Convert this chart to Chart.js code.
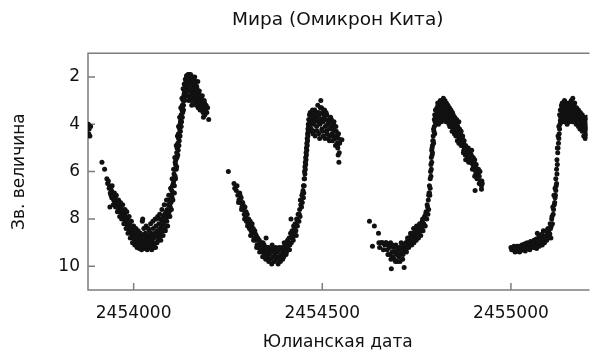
<!DOCTYPE html>
<html>
<head>
<meta charset="utf-8">
<script src="https://cdn.jsdelivr.net/npm/chart.js@4.4.0/dist/chart.umd.min.js"></script>
<style>
    html, body { margin: 0; padding: 0; background: #fff; overflow: hidden; }
    #wrap { width: 590px; height: 351px; }
</style>
</head>
<body>
<div id="wrap"><canvas id="chart" width="590" height="351"></canvas></div>
<script>
const JD_BASE = 2450000;

const cycle0 = [[3880,4.0],[3881,4.4],[3882,4.2],[3884,4.5],[3886,4.1]];

const cycle1 = [[3916,5.6],[3923,5.9],[3929,6.3],[3931,6.5],[3933,6.4],[3935,6.7],[3936,6.6],[3937,7.5],[3938,6.9],[3939,6.7],[3940,7.0],[3941,6.8],[3942,7.1],[3944,7.1],[3945,6.9],[3947,7.2],[3948,7.0],[3950,7.3],[3951,7.1],[3953,7.2],[3955,7.4],[3956,7.3],[3958,7.5],[3959,7.3],[3961,7.6],[3962,7.4],[3964,7.5],[3966,7.7],[3967,7.6],[3969,7.8],[3970,7.6],[3972,7.9],[3973,7.7],[3975,8.0],[3976,7.8],[3978,8.1],[3979,7.9],[3981,8.2],[3983,8.0],[3984,8.3],[3986,8.1],[3987,8.4],[3989,8.2],[3990,8.5],[3992,8.3],[3993,8.6],[3995,8.4],[3996,8.7],[3998,8.5],[3999,8.8],[4001,8.6],[4002,8.9],[4004,8.7],[4005,9.0],[4007,8.6],[4008,8.9],[4010,9.1],[4011,8.8],[4013,9.0],[4014,8.7],[4016,9.1],[4017,8.9],[4019,9.2],[4020,8.8],[4022,9.0],[4023,8.1],[4024,8.0],[4025,9.1],[4026,8.7],[4028,9.2],[4029,8.9],[4031,8.6],[4032,9.0],[4034,8.8],[4035,9.1],[4037,8.7],[4038,8.9],[4040,9.2],[4041,8.5],[4043,8.8],[4044,9.0],[4046,8.6],[4047,8.9],[4049,9.1],[4050,8.7],[4052,8.4],[4053,8.8],[4055,9.0],[4056,8.6],[4058,9.2],[4059,8.3],[4060,8.0],[4061,8.7],[4063,8.5],[4064,7.9],[4065,8.9],[4067,8.2],[4068,8.6],[4070,8.4],[4071,8.0],[4073,8.7],[4074,8.3],[4076,8.1],[4077,8.5],[4079,7.9],[4080,8.2],[4082,7.8],[4083,8.4],[4085,8.0],[4086,7.7],[4088,8.1],[4089,7.6],[4091,7.9],[4092,7.4],[4093,7.8],[4094,7.7],[4095,7.2],[4096,7.3],[4097,7.5],[4098,7.0],[4099,7.3],[4100,7.0],[4101,6.8],[4102,7.1],[4103,6.6],[4104,6.9],[4105,6.5],[4106,6.4],[4107,6.1],[4108,6.6],[4109,5.9],[4110,6.2],[4110,5.6],[4111,5.7],[4112,5.5],[4113,5.9],[4114,5.2],[4115,5.4],[4115,5.0],[4116,5.0],[4117,4.8],[4118,5.1],[4119,4.6],[4119,4.4],[4120,4.4],[4121,4.7],[4122,4.2],[4123,4.0],[4124,4.3],[4124,3.9],[4125,3.8],[4126,3.6],[4127,3.9],[4128,3.4],[4129,3.2],[4129,3.3],[4130,3.5],[4131,3.0],[4132,3.2],[4133,2.8],[4134,2.9],[4134,2.7],[4135,2.6],[4136,2.7],[4137,2.4],[4138,2.5],[4139,2.2],[4140,2.3],[4141,2.0],[4142,2.4],[4143,2.1],[4144,1.9],[4145,2.6],[4146,2.2],[4147,1.9],[4148,2.8],[4149,2.0],[4150,2.5],[4151,1.9],[4152,2.2],[4153,3.0],[4154,2.1],[4155,2.7],[4156,2.0],[4157,2.4],[4158,2.9],[4159,2.1],[4160,2.6],[4161,2.3],[4162,2.8],[4163,2.2],[4164,3.1],[4165,2.5],[4166,2.7],[4167,2.4],[4168,3.0],[4169,2.6],[4170,2.9],[4171,3.3],[4172,2.7],[4173,3.0],[4175,3.2],[4176,2.8],[4178,3.1],[4180,3.4],[4181,3.0],[4183,3.2],[4185,3.7],[4186,3.3],[4188,3.1],[4190,3.4],[4192,3.2],[4199,3.8]];
const cycle1More = [[3943,6.6],[3946,7.4],[3949,6.9],[3952,7.5],[3954,7.0],[3957,7.7],[3960,7.2],[3963,7.9],[3965,7.3],[3968,8.0],[3971,7.4],[3974,8.2],[3977,7.6],[3980,8.4],[3982,7.7],[3985,8.6],[3988,7.9],[3991,8.8],[3994,8.1],[3997,9.0],[4000,8.3],[4003,9.1],[4006,8.4],[4009,9.2],[4012,8.5],[4015,9.25],[4018,8.6],[4021,9.3],[4027,8.4],[4030,9.25],[4033,8.3],[4036,9.3],[4039,8.4],[4042,9.2],[4045,8.2],[4048,9.3],[4051,8.1],[4054,9.2],[4057,8.0],[4062,9.0],[4066,8.8],[4069,7.8],[4072,8.9],[4075,7.6],[4078,8.7],[4081,7.4],[4084,8.5],[4087,7.2],[4090,8.3],[4093,7.0],[4096,7.9],[4098,6.7],[4100,7.6],[4102,6.3],[4104,7.2],[4106,5.9],[4108,6.9],[4109,5.4],[4111,6.3],[4113,4.9],[4114,5.8],[4116,4.5],[4117,5.3],[4119,4.1],[4120,4.9],[4122,3.7],[4123,4.5],[4125,3.3],[4126,4.1],[4128,2.9],[4129,3.7],[4131,2.5],[4132,3.4],[4134,2.3],[4135,3.0],[4137,2.1],[4138,2.8],[4140,1.95],[4141,2.6],[4143,2.8],[4145,2.0],[4146,3.0],[4148,2.3],[4150,2.9],[4152,2.6],[4154,3.2],[4156,2.5],[4158,2.3],[4160,3.0],[4162,2.0],[4164,2.7],[4166,3.2],[4168,2.5],[4170,2.2],[4172,3.1],[4174,2.6],[4176,3.4],[4178,2.9],[4180,3.2],[4182,2.8],[4184,3.5],[4187,3.0],[4189,3.6],[4191,3.3],[4194,3.5],[4196,3.3]];

const cycle2 = [[4251,6.0],[4266,6.5],[4272,6.8],[4276,7.0],[4279,7.2],[4281,6.9],[4283,7.3],[4285,7.1],[4287,7.5],[4289,7.3],[4291,7.6],[4293,7.8],[4295,7.5],[4297,7.9],[4299,8.1],[4301,7.8],[4303,8.2],[4305,8.0],[4307,8.4],[4309,8.1],[4311,8.5],[4313,8.3],[4315,8.6],[4317,8.4],[4319,8.8],[4321,8.5],[4323,8.9],[4325,8.7],[4327,9.1],[4329,8.8],[4331,9.2],[4333,8.9],[4335,9.0],[4337,9.3],[4339,9.1],[4341,9.4],[4343,9.0],[4345,9.2],[4347,9.5],[4349,9.3],[4351,8.8],[4353,9.4],[4355,9.6],[4357,9.2],[4359,9.5],[4361,9.3],[4363,9.7],[4365,9.4],[4367,9.1],[4369,9.6],[4371,9.3],[4373,9.8],[4375,9.5],[4377,9.2],[4379,9.7],[4381,9.4],[4383,9.9],[4385,9.6],[4387,9.3],[4389,9.8],[4391,9.5],[4393,9.2],[4395,9.7],[4397,9.4],[4399,9.0],[4400,9.4],[4402,9.1],[4404,9.5],[4406,9.2],[4408,8.9],[4410,9.3],[4412,8.8],[4414,9.1],[4416,8.6],[4417,8.0],[4418,9.0],[4420,8.5],[4422,8.8],[4424,8.3],[4426,8.6],[4428,8.2],[4430,8.5],[4432,8.0],[4434,8.3],[4436,7.8],[4438,8.1],[4440,7.6],[4441,7.9],[4443,7.4],[4444,7.2],[4446,7.0],[4447,7.3],[4449,6.8],[4450,6.6],[4451,6.9],[4452,6.3],[4453,6.0],[4454,5.8],[4455,5.6],[4456,5.4],[4457,5.2],[4458,5.0],[4459,4.8],[4460,4.6],[4461,4.4],[4462,4.2],[4463,4.0],[4464,3.8],[4465,4.1],[4466,3.6],[4467,3.9],[4468,3.5],[4470,3.8],[4471,4.2],[4473,3.6],[4474,3.4],[4476,4.0],[4477,3.6],[4479,4.3],[4480,3.4],[4482,3.8],[4483,3.5],[4485,4.1],[4486,3.7],[4488,3.2],[4489,3.9],[4491,4.4],[4492,3.6],[4494,4.0],[4495,3.3],[4496,3.0],[4497,3.8],[4499,4.2],[4500,3.5],[4502,3.9],[4503,4.5],[4505,3.7],[4506,3.4],[4508,4.1],[4509,3.8],[4511,4.3],[4512,3.6],[4514,4.0],[4515,4.6],[4517,3.8],[4518,4.2],[4520,3.9],[4521,4.5],[4523,4.1],[4524,3.8],[4526,4.4],[4527,4.7],[4529,4.2],[4530,4.0],[4532,4.6],[4533,4.3],[4535,4.9],[4536,4.1],[4538,4.5],[4539,4.8],[4541,5.0],[4542,5.3],[4543,4.6],[4544,5.6],[4545,5.2],[4552,4.65]];
const cycle2More = [[4268,6.7],[4274,6.6],[4278,7.3],[4282,7.0],[4286,7.6],[4290,7.4],[4294,8.0],[4298,7.7],[4302,8.3],[4306,8.1],[4310,8.7],[4314,8.2],[4318,8.9],[4322,8.6],[4326,9.2],[4330,8.9],[4334,9.4],[4338,9.0],[4342,9.6],[4346,9.1],[4350,9.7],[4354,9.2],[4358,9.8],[4362,9.4],[4366,9.9],[4370,9.2],[4374,9.6],[4378,9.4],[4382,9.7],[4386,9.2],[4390,9.6],[4394,9.3],[4398,9.6],[4401,9.2],[4405,9.4],[4409,9.0],[4413,9.3],[4419,8.7],[4423,8.9],[4427,8.4],[4431,8.7],[4435,8.1],[4439,7.8],[4442,7.2],[4445,7.5],[4448,6.9],[4450,7.1],[4452,6.6],[4453,6.3],[4454,6.1],[4455,5.9],[4456,5.7],[4457,5.5],[4458,5.3],[4459,5.1],[4460,4.9],[4461,4.7],[4462,4.5],[4463,4.3],[4464,4.1],[4466,4.3],[4469,4.0],[4472,3.7],[4475,4.4],[4478,3.9],[4481,4.5],[4484,3.7],[4487,4.3],[4490,3.5],[4493,4.6],[4496,3.8],[4498,3.3],[4501,4.3],[4504,3.6],[4507,4.6],[4510,3.5],[4513,4.4],[4516,3.9],[4519,4.7],[4522,3.7],[4525,4.2],[4528,4.5],[4531,3.9],[4534,4.6],[4537,4.3],[4540,4.9],[4543,4.4],[4546,4.8]];

const cycle3 = [[4625,8.1],[4633,9.15],[4638,8.3],[4649,8.6],[4650,9.0],[4655,9.0],[4660,9.0],[4664,9.05],[4668,9.0],[4672,9.3],[4676,9.1],[4679,9.5],[4681,9.0],[4683,10.1],[4685,9.4],[4687,9.6],[4689,9.2],[4691,9.7],[4693,9.4],[4695,9.1],[4697,9.5],[4699,9.8],[4701,9.3],[4703,9.6],[4705,9.2],[4707,9.5],[4709,9.0],[4711,9.4],[4713,9.7],[4715,9.3],[4717,10.05],[4719,9.2],[4721,9.0],[4723,9.4],[4725,9.1],[4727,8.9],[4729,9.2],[4731,8.8],[4733,9.0],[4735,8.7],[4737,9.1],[4739,8.9],[4741,8.6],[4743,9.0],[4745,8.8],[4747,8.5],[4749,8.9],[4751,8.6],[4753,8.4],[4755,8.8],[4757,8.5],[4759,8.3],[4761,8.7],[4763,8.4],[4765,8.1],[4767,8.5],[4769,8.2],[4771,7.9],[4773,8.3],[4775,7.7],[4777,8.0],[4779,7.5],[4781,7.2],[4782,7.6],[4783,6.9],[4784,6.6],[4785,7.0],[4786,6.3],[4787,6.0],[4788,5.7],[4789,5.4],[4790,5.1],[4791,5.3],[4792,4.9],[4793,4.7],[4794,4.5],[4795,4.8],[4796,4.3],[4797,4.1],[4798,4.4],[4799,3.9],[4800,3.7],[4801,4.0],[4802,3.6],[4803,3.4],[4804,3.3],[4805,3.8],[4806,3.5],[4807,3.2],[4808,4.0],[4809,3.4],[4810,3.1],[4811,3.7],[4812,3.3],[4813,3.0],[4814,3.6],[4815,3.2],[4816,3.9],[4817,3.1],[4818,3.5],[4819,3.0],[4820,3.3],[4821,2.9],[4822,3.6],[4823,3.1],[4824,3.4],[4825,3.0],[4826,3.7],[4827,3.2],[4828,3.5],[4829,3.1],[4830,3.8],[4831,3.3],[4832,3.6],[4833,3.2],[4834,3.9],[4835,3.4],[4836,3.7],[4837,3.3],[4838,4.1],[4839,3.5],[4840,3.8],[4841,3.4],[4842,3.6],[4843,4.0],[4844,3.7],[4845,3.5],[4846,3.9],[4847,3.6],[4848,4.2],[4849,3.8],[4850,4.0],[4851,3.7],[4852,4.1],[4853,3.9],[4855,4.3],[4856,3.8],[4857,4.0],[4858,4.4],[4859,4.1],[4861,4.3],[4862,3.9],[4863,4.6],[4864,4.2],[4866,4.4],[4867,4.7],[4868,4.3],[4870,4.6],[4871,4.9],[4872,4.5],[4874,4.8],[4875,5.1],[4876,4.7],[4878,5.0],[4879,5.3],[4880,4.9],[4882,5.2],[4883,5.5],[4884,5.1],[4886,5.4],[4887,5.0],[4888,5.6],[4890,5.3],[4891,5.5],[4892,5.2],[4894,5.6],[4895,5.3],[4896,5.1],[4898,5.5],[4899,5.7],[4900,5.4],[4902,5.6],[4903,5.9],[4904,5.5],[4905,6.8],[4906,5.8],[4907,6.0],[4908,5.7],[4910,5.9],[4912,6.1],[4914,5.9],[4916,6.2],[4918,6.0],[4920,6.4],[4921,6.5],[4922,6.75],[4923,6.4]];
const cycle3More = [[4652,9.2],[4658,9.0],[4662,9.3],[4666,9.1],[4670,9.0],[4674,9.5],[4678,9.2],[4682,9.7],[4686,9.1],[4690,9.4],[4694,9.8],[4698,9.2],[4702,9.5],[4706,9.8],[4710,9.2],[4714,9.5],[4718,9.1],[4722,9.3],[4726,8.8],[4730,9.0],[4734,8.6],[4738,8.8],[4742,8.4],[4746,8.7],[4750,8.3],[4754,8.6],[4758,8.2],[4762,8.5],[4766,8.0],[4770,8.3],[4774,7.8],[4778,7.4],[4780,7.8],[4782,7.0],[4784,6.9],[4786,6.7],[4788,6.2],[4789,5.9],[4790,5.6],[4791,5.0],[4792,5.2],[4794,4.7],[4795,4.2],[4797,3.8],[4798,3.6],[4800,3.4],[4802,3.9],[4804,3.6],[4806,3.1],[4808,3.6],[4810,3.4],[4812,3.8],[4814,3.3],[4816,3.5],[4818,3.8],[4820,3.2],[4822,3.3],[4824,3.7],[4826,3.4],[4828,3.9],[4830,3.5],[4832,3.9],[4834,3.6],[4836,4.0],[4838,3.6],[4840,4.1],[4842,3.9],[4844,4.3],[4846,4.1],[4848,3.8],[4850,4.4],[4852,4.2],[4854,4.5],[4856,4.2],[4858,4.7],[4860,4.4],[4862,4.8],[4865,4.5],[4868,4.9],[4871,4.6],[4874,5.2],[4877,5.0],[4880,5.5],[4883,5.2],[4886,5.4],[4889,5.3],[4892,5.6],[4895,5.5],[4898,5.9],[4901,5.8],[4904,6.2],[4907,6.1],[4910,6.3],[4913,6.2],[4916,6.5],[4919,6.4],[4922,6.6],[4924,6.5]];

const cycle4 = [[5000,9.2],[5004,9.3],[5008,9.15],[5011,9.4],[5014,9.2],[5017,9.35],[5020,9.15],[5023,9.4],[5026,9.25],[5029,9.1],[5032,9.3],[5035,9.2],[5038,9.35],[5041,9.1],[5044,9.25],[5047,9.05],[5050,9.3],[5053,9.1],[5056,9.0],[5059,9.2],[5062,8.95],[5065,9.1],[5068,9.25],[5070,8.6],[5072,9.0],[5075,9.15],[5077,8.9],[5079,9.05],[5081,8.8],[5083,9.1],[5085,8.95],[5087,8.75],[5089,9.0],[5091,8.85],[5093,8.7],[5095,8.9],[5097,8.6],[5099,8.75],[5101,8.45],[5103,8.65],[5105,8.4],[5106,8.8],[5108,8.0],[5110,8.2],[5112,7.8],[5113,7.6],[5115,7.4],[5116,7.3],[5117,7.1],[5118,7.0],[5119,6.8],[5120,6.6],[5121,6.5],[5122,6.1],[5123,5.7],[5124,5.2],[5125,5.0],[5126,4.8],[5127,4.6],[5128,4.4],[5129,4.2],[5130,4.0],[5131,3.85],[5132,3.7],[5133,3.4],[5134,3.2],[5135,3.6],[5136,3.1],[5137,3.5],[5138,3.3],[5139,3.8],[5140,3.2],[5141,3.6],[5142,3.0],[5143,3.4],[5144,3.7],[5145,3.2],[5146,3.5],[5147,3.1],[5148,3.9],[5149,3.3],[5150,3.6],[5151,3.2],[5152,3.4],[5153,3.8],[5154,3.1],[5155,3.5],[5156,3.3],[5157,3.7],[5158,3.2],[5159,3.5],[5160,3.0],[5161,3.4],[5162,3.6],[5163,3.2],[5164,2.9],[5165,3.5],[5166,3.3],[5167,3.7],[5168,3.4],[5169,3.1],[5170,3.6],[5171,3.4],[5172,3.8],[5173,3.5],[5174,3.3],[5175,3.7],[5176,3.5],[5177,3.9],[5178,3.6],[5179,3.4],[5180,3.8],[5181,3.6],[5182,4.0],[5183,3.7],[5184,3.5],[5185,3.9],[5186,3.7],[5187,4.1],[5188,3.8],[5189,3.6],[5190,4.0],[5191,4.2],[5192,3.8],[5193,4.0],[5194,3.7],[5195,4.3],[5196,3.9],[5197,4.1],[5198,3.8],[5199,4.4],[5200,4.0],[5201,3.7],[5202,4.2]];
const cycle4More = [[5002,9.3],[5006,9.2],[5010,9.25],[5013,9.35],[5016,9.15],[5019,9.3],[5022,9.2],[5025,9.35],[5028,9.2],[5031,9.1],[5034,9.3],[5037,9.05],[5040,9.25],[5043,9.0],[5046,9.2],[5049,9.1],[5052,8.95],[5055,9.15],[5058,9.05],[5061,8.9],[5064,9.2],[5067,8.85],[5071,8.95],[5074,8.7],[5078,8.8],[5082,8.65],[5086,8.5],[5090,8.8],[5094,8.5],[5098,8.4],[5102,8.6],[5104,8.2],[5107,8.3],[5109,7.9],[5111,7.5],[5114,7.0],[5117,6.7],[5119,6.3],[5121,5.9],[5122,5.5],[5123,5.0],[5125,4.5],[5127,4.1],[5129,3.6],[5131,3.4],[5133,3.8],[5135,3.3],[5137,3.9],[5139,3.4],[5141,3.1],[5143,3.9],[5145,3.5],[5147,3.3],[5149,4.0],[5151,3.6],[5153,3.3],[5155,3.9],[5157,3.5],[5159,3.8],[5161,3.2],[5163,3.9],[5165,3.7],[5167,3.2],[5169,3.9],[5171,3.6],[5173,4.0],[5175,3.4],[5177,3.7],[5179,4.1],[5181,3.8],[5183,4.2],[5185,3.6],[5187,3.9],[5189,4.3],[5191,3.9],[5193,4.5],[5195,4.0],[5197,4.6],[5199,4.2],[5201,4.5]];

const xTicks = [2454000, 2454500, 2455000];
const yTicks = [2, 4, 6, 8, 10];

const points = [cycle0, cycle1, cycle1More, cycle2, cycle2More, cycle3, cycle3More, cycle4, cycle4More]
    .flat()
    .map(([d, m]) => ({ x: JD_BASE + d, y: m }));

const labelFont = { family: 'DejaVu Sans', size: 17, lineHeight: 1 };
const frameColor = '#7d7d7d';

// frame on three sides plus short inward ticks (R style)
const framePlugin = {
    id: 'frame',
    beforeDatasetsDraw(chart) {
        const { ctx, chartArea: a, scales: { x, y } } = chart;
        ctx.save();
        ctx.strokeStyle = frameColor;
        ctx.lineWidth = 1.5;
        ctx.beginPath();
        ctx.moveTo(a.right + 2, a.top);
        ctx.lineTo(a.left, a.top);
        ctx.lineTo(a.left, a.bottom);
        ctx.lineTo(a.right + 2, a.bottom);
        xTicks.forEach(v => {
            const px = x.getPixelForValue(v);
            ctx.moveTo(px, a.bottom);
            ctx.lineTo(px, a.bottom - 7);
        });
        yTicks.forEach(v => {
            const py = y.getPixelForValue(v);
            ctx.moveTo(a.left, py);
            ctx.lineTo(a.left + 7, py);
        });
        ctx.stroke();
        ctx.restore();
    }
};

new Chart(document.querySelector('#chart'), {
    type: 'scatter',
    data: {
        datasets: [{
            label: 'Мира',
            data: points,
            backgroundColor: '#111',
            borderWidth: 0,
            pointRadius: 2.5,
            pointHoverRadius: 2.5
        }]
    },
    options: {
        responsive: false,
        animation: false,
        devicePixelRatio: 1,
        layout: { padding: 0 },
        plugins: {
            legend: { display: false },
            tooltip: { enabled: false },
            title: {
                display: true,
                text: 'Мира (Омикрон Кита)',
                fullSize: false,
                color: '#111',
                font: { family: 'DejaVu Sans', size: 18.5, weight: 'normal', lineHeight: 1.2 },
                padding: { top: 9, bottom: 22 }
            }
        },
        scales: {
            x: {
                type: 'linear',
                min: 2453879,
                max: 2455203,
                afterBuildTicks: s => { s.ticks = xTicks.map(v => ({ value: v })); },
                afterFit: s => { s.height = 61; },
                grid: { display: false, drawTicks: false },
                border: { display: false },
                ticks: {
                    color: '#111',
                    font: labelFont,
                    padding: 15,
                    maxRotation: 0,
                    autoSkip: false,
                    callback: v => String(v)
                },
                title: {
                    display: true,
                    text: 'Юлианская дата',
                    color: '#111',
                    font: labelFont,
                    padding: { top: 0, bottom: 0 }
                }
            },
            y: {
                type: 'linear',
                reverse: true,
                min: 1,
                max: 11,
                afterBuildTicks: s => { s.ticks = yTicks.map(v => ({ value: v })); },
                afterFit: s => { s.width = 88; },
                grid: { display: false, drawTicks: false },
                border: { display: false },
                ticks: {
                    color: '#111',
                    font: labelFont,
                    padding: 8,
                    autoSkip: false,
                    callback: v => String(v)
                },
                title: {
                    display: true,
                    text: 'Зв. величина',
                    color: '#111',
                    font: labelFont,
                    padding: { top: 11, bottom: 0 }
                }
            }
        }
    },
    plugins: [framePlugin]
});
</script>
</body>
</html>
